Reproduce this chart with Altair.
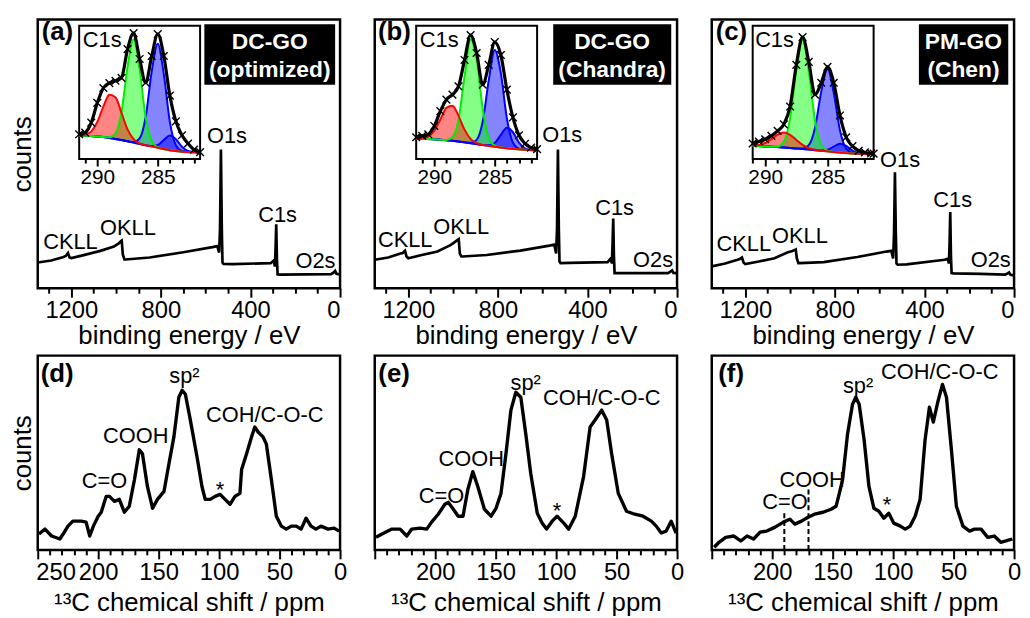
import altair as alt
import pandas as pd

FONT = "Liberation Sans"
W, HT, HB = 305, 271, 196

# ---------------- XPS survey spectra (binding energy / eV, counts a.u.) ----------------
survey_ev = [1350, 1290, 1235, 1225, 1215, 1208, 1200, 1140, 1070, 1010,
             990, 978, 975, 970, 963, 958, 850, 700, 570, 548,
             540, 536, 532, 528, 525, 520, 480, 310, 296, 291,
             288, 285, 282, 279, 270, 150, 40, 28, 22, 16, 0]
survey_a = [26, 28, 31.5, 32.5, 35.5, 31, 30.5, 33.7, 37.7, 42,
            45, 47.5, 48, 34, 29, 29, 31, 36.3, 41.5, 42.5,
            36, 60, 140, 60, 26, 24.5, 24.3, 25.3, 28, 22,
            40, 64.5, 30, 14, 13.7, 14, 14.3, 16, 17.5, 14.5, 14]
survey_b = [28.7, 31, 35, 35.5, 37.7, 32, 30.3, 33.5, 37, 43.7,
            47, 49, 49.5, 35, 32, 32, 33.5, 38, 43, 44,
            35, 60, 140, 60, 27, 25.3, 25.5, 26.3, 30, 25,
            45, 70.3, 33, 15.3, 15.3, 15.3, 15.3, 17, 18, 15.5, 15.3]
survey_c = [22, 25, 28.7, 29.5, 31, 26, 24.3, 27, 30.3, 36.3,
            37.5, 38.7, 39, 30, 25.3, 25.3, 26.3, 31.5, 37, 37.7,
            30, 55, 117, 55, 25, 23.7, 24, 28.7, 29.7, 25,
            45, 77, 33, 15.3, 15, 14.5, 13.8, 15, 16, 13.5, 13]

survey_peak_names = ["CKLL", "OKLL", "O1s", "C1s", "O2s"]
survey_a_lab_x = [1204, 947, 505, 279, 110]
survey_a_lab_y = [47, 61, 154, 73.5, 27.5]
survey_b_lab_x = [1214, 964, 513, 279, 107]
survey_b_lab_y = [48.5, 62, 154.5, 81, 28]
survey_c_lab_x = [1207, 956, 509, 274, 104]
survey_c_lab_y = [44.5, 53, 129, 89, 28]

box_a = ["DC-GO", "(optimized)"]
box_b = ["DC-GO", "(Chandra)"]
box_c = ["PM-GO", "(Chen)"]

# ---------------- C1s high-resolution insets ----------------
grid_ab = [291.5, 291.0, 290.5, 290.0, 289.5, 289.0, 288.5, 288.0, 287.5, 287.0, 286.5,
           286.0, 285.5, 285.0, 284.5, 284.0, 283.5, 283.0, 282.5, 282.0, 281.5]
grid_c = [291.0, 290.5, 290.0, 289.5, 289.0, 288.5, 288.0, 287.5, 287.0, 286.5,
          286.0, 285.5, 285.0, 284.5, 284.0, 283.5, 283.0, 282.5, 282.0, 281.5, 281.3]

bg_a = [23.5, 23.4, 23.2, 22.8, 22.2, 21.3, 20.3, 19.3, 18.0, 16.6, 15.2,
        14.0, 12.8, 11.4, 10.1, 9.0, 8.1, 7.5, 7.1, 6.9, 6.7]
red_a = [0, 1, 4.7, 14.6, 30.7, 43.6, 42, 27.3, 12, 3.6, 0.7, 0, 0, 0, 0, 0, 0, 0, 0, 0, 0]
green_a = [0, 0, 0, 0, 0, 0.6, 5.6, 28, 75, 104, 75, 28, 5.6, 0.6, 0, 0, 0, 0, 0, 0, 0]
blue_a = [0, 0, 0, 0, 0, 0, 0, 0, 0, 0.6, 5.7, 28.5, 75.6, 105, 75.6, 28.5, 5.7, 0.6, 0, 0, 0]
blue2_a = [0, 0, 0, 0, 0, 0, 0, 0, 0, 0, 0, 0, 0.4, 2.8, 9.1, 14.8, 12, 4.9, 1, 0.1, 0]
env_a = [25.0, 26.7, 36.7, 56.7, 71.7, 76.7, 79, 82, 111, 127, 101, 77, 104, 126, 104, 64, 38, 24, 15.7, 9.5, 7]

bg_b = [20.5, 20.4, 20.2, 19.9, 19.5, 19.0, 18.4, 17.7, 16.9, 16.0, 15.1,
        14.2, 13.3, 12.4, 11.6, 10.9, 10.3, 9.8, 9.4, 9.1, 9.0]
red_b = [0, 0.5, 2.5, 8.7, 20.5, 32.7, 35.4, 25.9, 12.8, 4.3, 1, 0, 0, 0, 0, 0, 0, 0, 0, 0, 0]
green_b = [0, 0, 0, 0, 0, 0.3, 3.8, 22, 66.4, 104.6, 86, 37, 8.3, 1, 0, 0, 0, 0, 0, 0, 0]
blue_b = [0, 0, 0, 0, 0, 0, 0, 0, 0, 0.4, 4.3, 23.4, 66.1, 97.7, 75.3, 30.3, 6.4, 0.7, 0, 0, 0]
blue2_b = [0, 0, 0, 0, 0, 0, 0, 0, 0, 0, 0, 0, 0.6, 3.9, 12.7, 20.8, 16.8, 6.8, 1.4, 0.1, 0]
env_b = [22, 23.4, 25, 33.4, 48.4, 60, 65, 73.4, 100, 125, 107, 75, 95, 118, 105, 70, 42, 24, 15.5, 11.5, 10]

bg_c = [13.4, 13.1, 12.8, 12.5, 12.1, 11.7, 11.2, 10.7, 10.2, 9.6,
        9.0, 8.4, 7.8, 7.1, 6.5, 6.0, 5.6, 5.3, 5.1, 5.0, 4.95]
red_c = [0.3, 1.1, 3.4, 7.6, 12.5, 15, 13.2, 8.6, 4.1, 1.4, 0.4, 0, 0, 0, 0, 0, 0, 0, 0, 0, 0]
green_c = [0, 0, 0, 0, 0.6, 5.9, 29.9, 79, 110, 79, 29.9, 5.9, 0.6, 0, 0, 0, 0, 0, 0, 0, 0]
blue_c = [0, 0, 0, 0, 0, 0, 0, 0, 0.5, 4.5, 22.6, 59.8, 83, 59.8, 22.6, 4.5, 0.5, 0, 0, 0, 0]
blue2_c = [0, 0, 0, 0, 0, 0, 0, 0, 0, 0, 0, 0.3, 1.7, 5.5, 8.9, 7.2, 2.9, 0.6, 0, 0, 0]
env_c = [15.7, 17.7, 20, 23.4, 28.4, 35, 53, 95, 123, 98, 65, 77, 93, 77, 44, 22, 13, 8.4, 6.7, 5.7, 5.5]

# ---------------- 13C NMR spectra (ppm, counts a.u.) ----------------
nmr_d_ppm = [249, 244, 238.5, 231.7, 229, 225, 221, 214, 210, 207,
             204, 200, 197.5, 193.4, 190.7, 186.6, 182.5, 178.4, 174.3, 170,
             166, 163.4, 159.3, 155, 151, 145.6, 141.5, 137.4, 133.3, 130.6,
             127.9, 123.8, 118.3, 114.2, 111.5, 107.4, 103.3, 99.2, 95.1, 91,
             86.9, 82.8, 81.4, 77.3, 73.2, 70.5, 67.8, 63.7, 61, 56.8,
             52.7, 48.6, 44.5, 40.4, 36.3, 32.2, 28.1, 24, 20, 15.8,
             10, 4.9, 0.8]
nmr_d_ct = [16, 21, 14, 11, 16, 24, 29, 29, 28, 14,
            24, 34, 38, 54, 54, 49, 51, 38, 44, 71,
            101, 97, 64, 42, 51, 59, 87, 114, 154, 161,
            157, 131, 94, 64, 51, 51, 54, 56, 51, 46,
            54, 57, 81, 97, 114, 124, 119, 114, 107, 71,
            34, 24, 21, 24, 24, 21, 32, 24, 21, 24,
            21, 22, 19]
nmr_e_ppm = [249, 244, 235.8, 229, 223.5, 219.4, 212.6, 207, 203, 197.5,
             192, 189.3, 185, 181, 177, 173, 168.9, 164.8, 159.3, 153.8,
             149.7, 145.6, 141.5, 137.4, 133.3, 129.2, 125.1, 121, 115.6, 111.5,
             107.9, 103.3, 99.2, 93.7, 89.6, 84.2, 77.3, 71.9, 67.8, 62.3,
             58.2, 54.1, 48.6, 41.8, 35, 28.1, 21.3, 17.2, 13.1, 9,
             4.9, 0.8]
nmr_e_ct = [12.7, 16, 21, 21, 14, 21, 22, 21, 28, 36,
            46, 48, 41, 34, 34, 61, 79, 64, 41, 34,
            42, 57, 97, 141, 159, 154, 117, 77, 37, 27,
            21, 29, 34, 27, 21, 34, 74, 124, 131, 141,
            131, 97, 57, 39, 36, 34, 29, 24, 17, 19,
            29, 17]
nmr_f_ppm = [248, 244, 238.5, 231.7, 226, 220.8, 215.4, 210, 204.5, 197.6,
             190.8, 185.4, 181.3, 175.8, 170.4, 165, 158, 151.3, 147.2, 144.5,
             141.8, 137.7, 133.6, 130.9, 128.1, 124, 120, 115.9, 111.8, 107.7,
             103.6, 99.5, 94, 90, 85.9, 81.8, 77.7, 73.6, 70, 66.8,
             62.7, 59.2, 55.9, 51.8, 47.7, 42.3, 36.8, 32.7, 27.3, 21.8,
             16.4, 11, 6.8, 1.4]
nmr_f_ct = [2.7, 7.7, 12.7, 14, 9, 14, 11, 18, 19, 23,
            28, 31, 26, 29, 33, 36, 38, 41, 44, 57,
            71, 117, 147, 154, 147, 111, 64, 42, 39, 32,
            37, 27, 24, 21, 24, 34, 51, 111, 144, 129,
            151, 167, 154, 101, 44, 24, 19, 21, 21, 12.7,
            14, 7.7, 9, 11]
f_dash_ppm = [190, 170]
f_dash_top = [38, 61]

nmr_names = ["sp²", "COH/C-O-C", "COOH", "C=O", "*"]
nmr_d_lab_x = [128.7, 62.3, 168.9, 194.8, 99.2]
nmr_d_lab_y = [175, 136, 115, 69, 60]
nmr_e_lab_x = [125.2, 62.3, 170.2, 194.8, 99.2]
nmr_e_lab_y = [168, 153, 92, 54, 39]
nmr_f_lab_x = [129, 61.5, 167, 189.5, 105]
nmr_f_lab_y = [165, 179, 70, 48.5, 45]

# ---------------- geometry of insets (pixels inside a top panel) ----------------
INSET_H = 134.4
INSET_BOTTOM = 140.7
INSET_TOP = 6.3
CROSS = "M-1,-1L1,1M-1,1L1,-1"
ANN = 22       # annotation font size
TAG = 26       # panel tag font size


def scale(domain, reverse=False, rng=None):
    kw = dict(domain=domain, nice=False, zero=False)
    if reverse:
        kw["reverse"] = True
    if rng is not None:
        kw["range"] = rng
    return alt.Scale(**kw)


def text_layer(xs, ys, texts, xscale, yscale, size=ANN, weight="normal", color="black"):
    d = pd.DataFrame({"x": xs, "y": ys, "t": texts})
    return alt.Chart(d).mark_text(font=FONT, fontSize=size, fontWeight=weight, color=color,
                                  align="center", baseline="middle").encode(
        x=alt.X("x:Q", scale=xscale, axis=None),
        y=alt.Y("y:Q", scale=yscale, axis=None),
        text="t:N")


def inset_layers(grid, bg, red, green, blue, blue2, env, xdom, xrng, c1s_x):
    xs = scale(xdom, rng=xrng)
    ys = scale([0, INSET_H], rng=[INSET_BOTTOM, INSET_TOP])

    def X(f, axis=None):
        return alt.X(f, type="quantitative", scale=xs, axis=axis)

    def Y(f):
        return alt.Y(f, type="quantitative", scale=ys, axis=None)

    inset_axis = alt.Axis(orient="bottom", offset=-(HT - INSET_BOTTOM),
                          values=list(range(282, 292)), format="d",
                          labelExpr="datum.value % 5 === 0 ? datum.label : ''",
                          tickSize={"condition": {"test": "datum.value % 5 === 0", "value": 7}, "value": 4},
                          labelFontSize=21, labelPadding=1, title=None, domain=False,
                          labelOverlap=False, tickWidth=2)
    fr = pd.DataFrame({"x0": [xdom[0]], "x1": [xdom[1]], "y0": [0], "y1": [INSET_H]})
    frame = alt.Chart(fr).mark_rect(fill="white", stroke="black", strokeWidth=2).encode(
        x=X("x0", inset_axis), x2="x1", y=Y("y0"), y2="y1")

    t = pd.DataFrame({
        "x": grid, "bg": bg,
        "red": [b + c for b, c in zip(bg, red)],
        "green": [b + c for b, c in zip(bg, green)],
        "blue": [b + c for b, c in zip(bg, blue)],
        "blue2": [b + c for b, c in zip(bg, blue2)],
        "env": env,
    })

    def area(col, color):
        return alt.Chart(t).mark_area(color=color, opacity=0.48, interpolate="monotone").encode(
            x=X("x"), y=Y(col), y2="bg")

    def line(col, color, w=2.0):
        return alt.Chart(t).mark_line(color=color, strokeWidth=w, interpolate="monotone").encode(
            x=X("x"), y=Y(col))

    crosses = alt.Chart(t).mark_point(shape=CROSS, filled=False, stroke="black", strokeWidth=1.4,
                                      size=60, opacity=1).encode(x=X("x"), y=Y("env"))
    c1s = alt.Chart(pd.DataFrame({"x": [c1s_x], "y": [120], "t": ["C1s"]})).mark_text(
        font=FONT, fontSize=22, align="center", baseline="middle").encode(
        x=X("x"), y=Y("y"), text="t:N")
    return [frame,
            area("blue", "#0000ff"), area("blue2", "#0000ff"),
            area("green", "#00ff00"), area("red", "#ff0000"),
            line("bg", "#8a8a8a", 2.2),
            line("blue2", "#0000ff"), line("blue", "#0000ff"),
            line("green", "#00ee00"), line("red", "#ff0000"),
            line("env", "black", 3.2), crosses, c1s]


def survey_panel(tag, cts, lab_x, lab_y, box_txt, box_x0, box_x1, box_tx, inset, show_y):
    xs = scale([0, 1350], reverse=True)
    ys = scale([0, HT])
    x_axis = alt.Axis(values=list(range(0, 1301, 100)), format="d",
                      labelExpr="datum.value % 400 === 0 ? datum.label : ''",
                      tickSize={"condition": {"test": "datum.value % 400 === 0", "value": 9}, "value": 5},
                      title="binding energy / eV", labelPadding=2, titlePadding=0)
    y_axis = alt.Axis(title="counts", labels=False, ticks=False, domain=False, titlePadding=2) if show_y else None
    main = alt.Chart(pd.DataFrame({"x": survey_ev, "y": cts})).mark_line(
        color="black", strokeWidth=2.7, clip=True).encode(
        x=alt.X("x:Q", scale=xs, axis=x_axis),
        y=alt.Y("y:Q", scale=ys, axis=y_axis))
    labels = text_layer(lab_x, lab_y, survey_peak_names, xs, ys)
    tagl = text_layer([1262], [258], [tag], xs, ys, size=TAG, weight="bold")
    box = alt.Chart(pd.DataFrame({"x0": [box_x0], "x1": [box_x1], "y0": [205.3], "y1": [266.3]})).mark_rect(
        color="black").encode(x=alt.X("x0:Q", scale=xs, axis=None), x2="x1",
                              y=alt.Y("y0:Q", scale=ys, axis=None), y2="y1")
    btxt = text_layer([box_tx, box_tx], [248, 220], box_txt, xs, ys, size=23, weight="bold", color="white")
    layers = [main, labels, tagl, box, btxt] + inset
    return alt.layer(*layers).resolve_scale(x="independent", y="independent").properties(width=W, height=HT)


def nmr_panel(tag, ppm, cts, lab_x, lab_y, show_y, label_250, dashed=False):
    xs = scale([0, 250], reverse=True)
    ys = scale([0, HB])
    cond = "datum.value % 50 === 0" if label_250 else "datum.value % 50 === 0 && datum.value < 250"
    x_axis = alt.Axis(values=list(range(0, 251, 10)), format="d",
                      labelExpr=cond + " ? datum.label : ''",
                      labelAlign={"condition": {"test": "datum.value === 250", "value": "left"}, "value": "center"},
                      labelOffset={"condition": {"test": "datum.value === 250", "value": -2}, "value": 0},
                      tickSize={"condition": {"test": "datum.value % 50 === 0", "value": 9}, "value": 5},
                      title="¹³C chemical shift / ppm", labelPadding=2, titlePadding=5)
    y_axis = alt.Axis(title="counts", labels=False, ticks=False, domain=False, titlePadding=2) if show_y else None
    main = alt.Chart(pd.DataFrame({"x": ppm, "y": cts})).mark_line(
        color="black", strokeWidth=3.4, clip=True, strokeJoin="round").encode(
        x=alt.X("x:Q", scale=xs, axis=x_axis),
        y=alt.Y("y:Q", scale=ys, axis=y_axis))
    labels = text_layer(lab_x, lab_y, nmr_names, xs, ys)
    tagl = text_layer([234], [177], [tag], xs, ys, size=TAG, weight="bold")
    layers = [main, labels, tagl]
    if dashed:
        dd = pd.DataFrame({"x": f_dash_ppm, "y0": [0, 0], "y1": f_dash_top})
        layers.append(alt.Chart(dd).mark_rule(color="black", strokeWidth=2, strokeDash=[5, 3]).encode(
            x=alt.X("x:Q", scale=xs, axis=None),
            y=alt.Y("y0:Q", scale=ys, axis=None), y2="y1"))
    return alt.layer(*layers).resolve_scale(x="independent", y="independent").properties(width=W, height=HB)


pa = survey_panel("(a)", survey_a, survey_a_lab_x, survey_a_lab_y, box_a, 606, 22, 314,
                  inset_layers(grid_ab, bg_a, red_a, green_a, blue_a, blue2_a, env_a,
                               [281.5, 291.5], [163.8, 41.8], 289.6), True)
pb = survey_panel("(b)", survey_b, survey_b_lab_x, survey_b_lab_y, box_b, 553, 26, 290,
                  inset_layers(grid_ab, bg_b, red_b, green_b, blue_b, blue2_b, env_b,
                               [281.5, 291.5], [163.8, 41.8], 289.6), False)
pc = survey_panel("(c)", survey_c, survey_c_lab_x, survey_c_lab_y, box_c, 425, 26, 226,
                  inset_layers(grid_c, bg_c, red_c, green_c, blue_c, blue2_c, env_c,
                               [281.3, 291.0], [163.3, 41.3], 289.25), False)
pd_ = nmr_panel("(d)", nmr_d_ppm, nmr_d_ct, nmr_d_lab_x, nmr_d_lab_y, True, True)
pe = nmr_panel("(e)", nmr_e_ppm, nmr_e_ct, nmr_e_lab_x, nmr_e_lab_y, False, False)
pf = nmr_panel("(f)", nmr_f_ppm, nmr_f_ct, nmr_f_lab_x, nmr_f_lab_y, False, False, dashed=True)

chart = alt.concat(pa, pb, pc, pd_, pe, pf, columns=3,
                   spacing={"row": 68, "column": 35}, bounds="flush").properties(
    padding={"left": 0, "top": 7, "right": 0, "bottom": 0}
).configure_view(stroke="black", strokeWidth=2.5).configure_axis(
    labelFont=FONT, titleFont=FONT, labelFontSize=24, titleFontSize=26,
    titleFontWeight="normal", labelColor="black", titleColor="black",
    tickColor="black", tickWidth=2, grid=False, domain=False, labelOverlap=False)

chart.save("out.html", embed_options={"renderer": "svg", "actions": False})
